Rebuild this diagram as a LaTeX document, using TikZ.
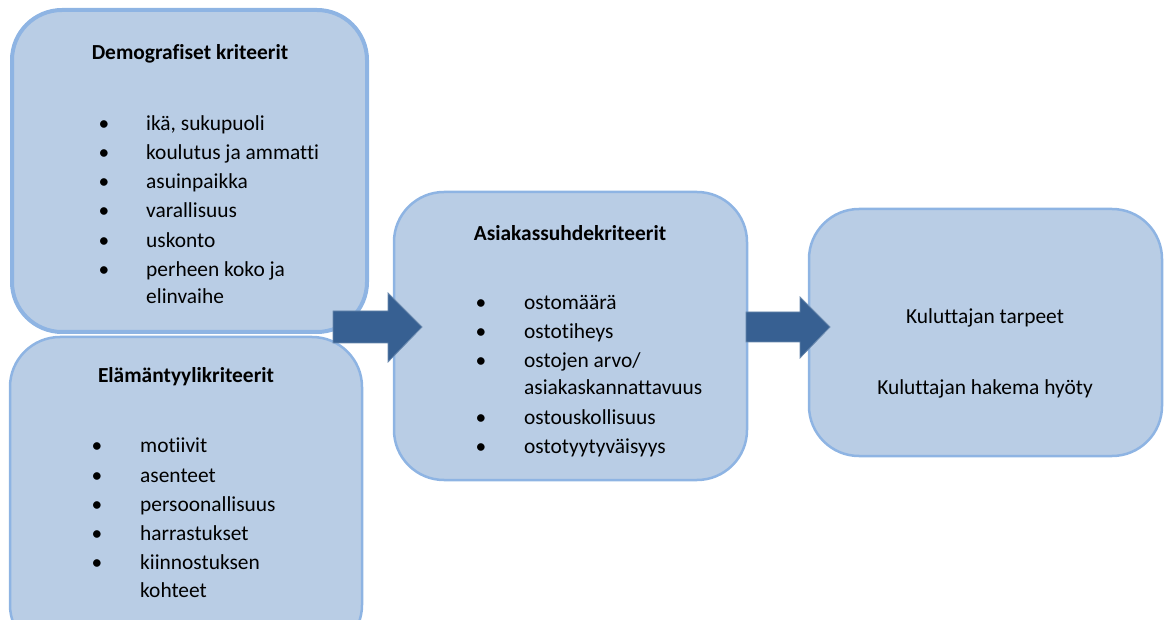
\documentclass[tikz,border=0pt]{standalone}
\usepackage{fontspec}
\setmainfont{Carlito}[Ligatures=NoCommon]
\definecolor{boxfill}{HTML}{B9CDE5}
\definecolor{boxline}{HTML}{8EB4E3}
\definecolor{arrowfill}{HTML}{376092}
\newcommand{\critfont}{\fontsize{21.4}{29}\selectfont}
\tikzset{
  crit/.style={draw=boxline,fill=boxfill,line width=2.5pt,rounded corners=50pt,inner sep=0pt},
  bigarrow/.style={fill=arrowfill,draw=arrowfill!75!white,line width=.8pt,line join=miter},
  title/.style={font=\critfont\bfseries,inner sep=0pt,yshift=-2pt},
  item/.style={anchor=mid west,inner sep=0pt,yshift=-3pt},
  dot/.style={anchor=mid,inner sep=0pt,yshift=-3pt}
}
\begin{document}
\begin{tikzpicture}[x=1pt,y=-1pt,font=\critfont]
\useasboundingbox (0,0) rectangle (1168,620);
\clip (0,0) rectangle (1168,620);
% boxes
\node[crit,line width=4pt,minimum width=355pt,minimum height=322pt] (demo) at (189.5,171) {};
\node[crit,minimum width=352pt,minimum height=318pt] (life) at (186,496) {};
\node[crit,minimum width=353pt,minimum height=288pt] (cust) at (570.5,336) {};
\node[crit,minimum width=353pt,minimum height=247pt] (need) at (985.5,332.5) {};
% block arrows
\draw[bigarrow] (333,311)--(388,311)--(388,293)--(422,327)--(388,362)--(388,343)--(333,343)--cycle;
\draw[bigarrow] (746,312)--(800,312)--(800,297)--(830,327)--(800,358)--(800,342)--(746,342)--cycle;
% Demografiset kriteerit
\node[title] (demot) at (190,52) {Demografiset kriteerit};
\foreach \y/\t [count=\i] in {125/{ikä, sukupuoli},154/koulutus ja ammatti,183/asuinpaikka,
  212/varallisuus,242/uskonto,271/perheen koko ja,298/elinvaihe}
  \node[item] (d\i) at (146,\y) {\t};
\foreach \y [count=\i] in {125,154,183,212,242,271}
  \node[dot] (db\i) at (104,\y) {•};
% Elämäntyylikriteerit
\node[title] (lifet) at (186,375) {Elämäntyylikriteerit};
\foreach \y/\t [count=\i] in {447/motiivit,477/asenteet,506/persoonallisuus,535/harrastukset,
  564/kiinnostuksen,592/kohteet}
  \node[item] (l\i) at (140,\y) {\t};
\foreach \y [count=\i] in {447,477,506,535,564}
  \node[dot] (lb\i) at (97,\y) {•};
% Asiakassuhdekriteerit
\node[title] (custt) at (570,231) {Asiakassuhdekriteerit};
\foreach \y/\t [count=\i] in {304/ostomäärä,333/ostotiheys,362/{ostojen arvo/},389/asiakaskannattavuus,
  419/ostouskollisuus,448/ostotyytyväisyys}
  \node[item] (c\i) at (524,\y) {\t};
\foreach \y [count=\i] in {304,333,362,419,448}
  \node[dot] (cb\i) at (481,\y) {•};
% Kuluttaja
\node[inner sep=0pt] (need1) at (985,318) {Kuluttajan tarpeet};
\node[inner sep=0pt] (need2) at (985,389) {Kuluttajan hakema hyöty};
\end{tikzpicture}
\end{document}
